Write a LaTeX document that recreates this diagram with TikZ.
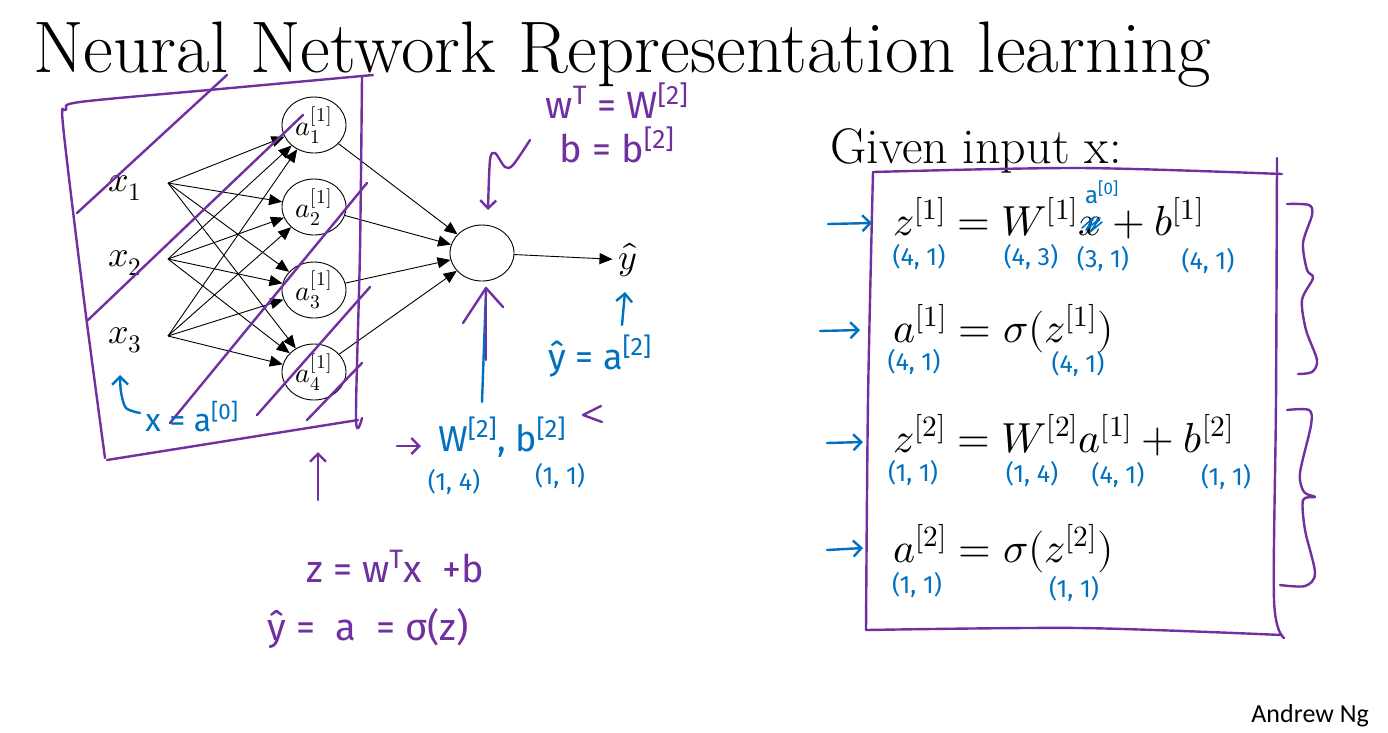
\documentclass[tikz,border=0pt]{standalone}
\usepackage{fontspec}
\usepackage{unicode-math}
\usetikzlibrary{arrows.meta,positioning,shapes.geometric}
\newfontfamily\handfont{Fira Sans}
\newfontfamily\notefont{Carlito}
\definecolor{pen}{HTML}{7030A0}
\definecolor{ink}{HTML}{0070C0}
\newcommand{\sq}[1]{\textsuperscript{[#1]}}
\newcommand{\hs}[1]{\handfont\fontsize{#1}{#1}\selectfont}
\tikzset{
  neuron/.style={draw,ellipse,line width=0.9pt,minimum width=64pt,minimum height=56pt,inner sep=0pt,font=\fontsize{28}{30}\selectfont},
  ar/.style={-{Triangle[length=13pt,width=11pt]},line width=0.9pt},
  stroke/.style={draw=pen,line width=2.4pt,line cap=round,line join=round},
  bstroke/.style={draw=ink,line width=2.4pt,line cap=round,line join=round},
  barb/.style={-{Straight Barb[length=8pt,width=16pt]}},
  ptxt/.style={text=pen,font=\hs{38},inner sep=0pt,anchor=base},
  btxt/.style={text=ink,font=\hs{36},inner sep=0pt,anchor=base},
  dim/.style={text=ink,font=\hs{25},inner sep=0pt},
  eq/.style={anchor=base west,inner sep=0pt,font=\fontsize{42}{46}\selectfont},
  inp/.style={inner sep=0pt,font=\fontsize{36}{40}\selectfont},
}

\begin{document}
\begin{tikzpicture}[x=1pt,y=-1pt]
  \useasboundingbox[fill=white] (0,0) rectangle (1388,732);

  \node[anchor=base west,inner sep=0pt,font=\fontsize{73}{78}\selectfont] (title) at (33,72)
    {Neural Network Representation learning};
  \node[anchor=base west,inner sep=0pt,font=\fontsize{50}{54}\selectfont] (given) at (830,163)
    {Given input x:};
  \node[anchor=base east,inner sep=0pt,font=\notefont\fontsize{26}{27}\selectfont] (author) at (1369,722)
    {Andrew Ng};

  % network
  \node[inp] (x1) at (125,188) {$x_1$};
  \node[inp] (x2) at (125,263) {$x_2$};
  \node[inp] (x3) at (125,340) {$x_3$};
  \coordinate (i1) at (168,183);
  \coordinate (i2) at (168,259);
  \coordinate (i3) at (168,336);
  \node[neuron] (h1) at (314,125) {$a^{[1]}_1$};
  \node[neuron] (h2) at (314,207) {$a^{[1]}_2$};
  \node[neuron] (h3) at (314,290) {$a^{[1]}_3$};
  \node[neuron] (h4) at (314,372) {$a^{[1]}_4$};
  \node[neuron] (out) at (482,253) {};
  \node[inp] (yhat) at (628,260) {$\hat{y}$};

  \foreach \i in {1,2,3}
    \foreach \j in {1,...,4}
      \draw[ar] (i\i) -- (h\j);
  \foreach \j in {1,...,4}
    \draw[ar] (h\j) -- (out);
  \draw[ar,shorten >=6pt] (out) -- (yhat);

  % left box and strokes
  \draw[stroke] plot[smooth] coordinates {(373,75) (220,89) (80,102) (66,110) (63,125) (84,300) (105,458)};
  \draw[stroke] plot[smooth] coordinates {(362,77) (360,250) (356,418) (362,418)};
  \draw[stroke] (107,460) -- (358,420);
  \draw[stroke] (77,213) -- (227,75);
  \draw[stroke] (88,320) -- (303,115);
  \draw[stroke] (170,423) -- (367,183);
  \draw[stroke] (257,415) -- (370,287);
  \draw[stroke] (307,420) -- (362,363);
  \draw[stroke,barb] (318,500) -- (318,452);

  \draw[bstroke,barb] plot[smooth] coordinates {(140,413) (126,408) (121,392) (120,375)};
  \node[btxt,font=\hs{32}] (xa0) at (192,431) {x = a\sq{0}};

  % output annotations
  \node[ptxt] (wT) at (617,118) {w\textsuperscript{T} = W\sq{2}};
  \node[ptxt] (bb) at (617,162) {b = b\sq{2}};
  \draw[stroke,barb] plot[smooth] coordinates {(530,140) (513,165) (505,167) (495,153) (490,160) (488,210)};
  \draw[bstroke] (482,402) -- (486,290);
  \draw[stroke] (486,360) -- (486,290);
  \draw[stroke] (463,323) -- (486,288) -- (503,307);
  \node[btxt] (ya2) at (600,369) {ŷ = a\sq{2}};
  \draw[bstroke,barb] (622,325) -- (625,292);
  \draw[stroke,barb] (397,446) -- (421,446);
  \node[btxt,anchor=base west] (W2) at (438,451) {W\sq{2}, b\sq{2}};
  \draw[stroke] (601,406) -- (583,415) -- (602,422);
  \node[dim] (dW2) at (454,482) {(1, 4)};
  \node[dim] (db2) at (560,476) {(1, 1)};

  \node[ptxt] (zeq) at (395,582) {z = w\textsuperscript{T}x \ +b};
  \node[ptxt] (yeq) at (368,640) {ŷ = \ a \ = σ(z)};

  % right box
  \draw[stroke] plot[smooth] coordinates {(873,172) (1080,168) (1282,174)};
  \draw[stroke] plot[smooth] coordinates {(1277,158) (1276,400) (1274,600) (1284,638)};
  \draw[stroke] plot[smooth] coordinates {(873,172) (868,400) (866,630)};
  \draw[stroke] plot[smooth] coordinates {(866,630) (1080,628) (1282,635)};

  \node[eq] (e1) at (893,235) {$z^{[1]} = W^{[1]}x + b^{[1]}$};
  \node[eq] (e2) at (893,342) {$a^{[1]} = \sigma(z^{[1]})$};
  \node[eq] (e3) at (893,452) {$z^{[2]} = W^{[2]}a^{[1]} + b^{[2]}$};
  \node[eq] (e4) at (893,562) {$a^{[2]} = \sigma(z^{[2]})$};

  \node[dim] (d11) at (919,257) {(4, 1)};
  \node[dim] (d12) at (1031,257) {(4, 3)};
  \node[dim] (d13) at (1103,259) {(3, 1)};
  \node[dim] (d14) at (1208,261) {(4, 1)};
  \node[dim] (d21) at (914,362) {(4, 1)};
  \node[dim] (d22) at (1078,364) {(4, 1)};
  \node[dim] (d31) at (913,473) {(1, 1)};
  \node[dim] (d32) at (1032,474) {(1, 4)};
  \node[dim] (d33) at (1118,475) {(4, 1)};
  \node[dim] (d34) at (1226,477) {(1, 1)};
  \node[dim] (d41) at (917,585) {(1, 1)};
  \node[dim] (d42) at (1074,589) {(1, 1)};

  \node[dim,anchor=base,font=\hs{24}] (a0) at (1102,203) {a\sq{0}};
  \draw[bstroke,line width=1.6pt] (1082,228) -- (1094,217) -- (1086,230) -- (1100,218) -- (1090,232) -- (1102,222);

  \draw[bstroke,barb] (828,224) -- (872,223);
  \draw[bstroke,barb] (820,331) -- (860,330);
  \draw[bstroke,barb] (827,443) -- (863,442);
  \draw[bstroke,barb] (827,550) -- (863,548);

  \draw[stroke] plot[smooth] coordinates {(1287,204) (1309,205) (1312,215) (1303,243) (1307,270) (1313,278) (1302,300) (1306,330) (1317,360) (1312,372) (1298,374)};
  \draw[stroke] plot[smooth] coordinates {(1287,410) (1309,410) (1311,425) (1300,473) (1304,492) (1315,497) (1303,500) (1305,530) (1315,573) (1305,586) (1280,585)};
\end{tikzpicture}
\end{document}
